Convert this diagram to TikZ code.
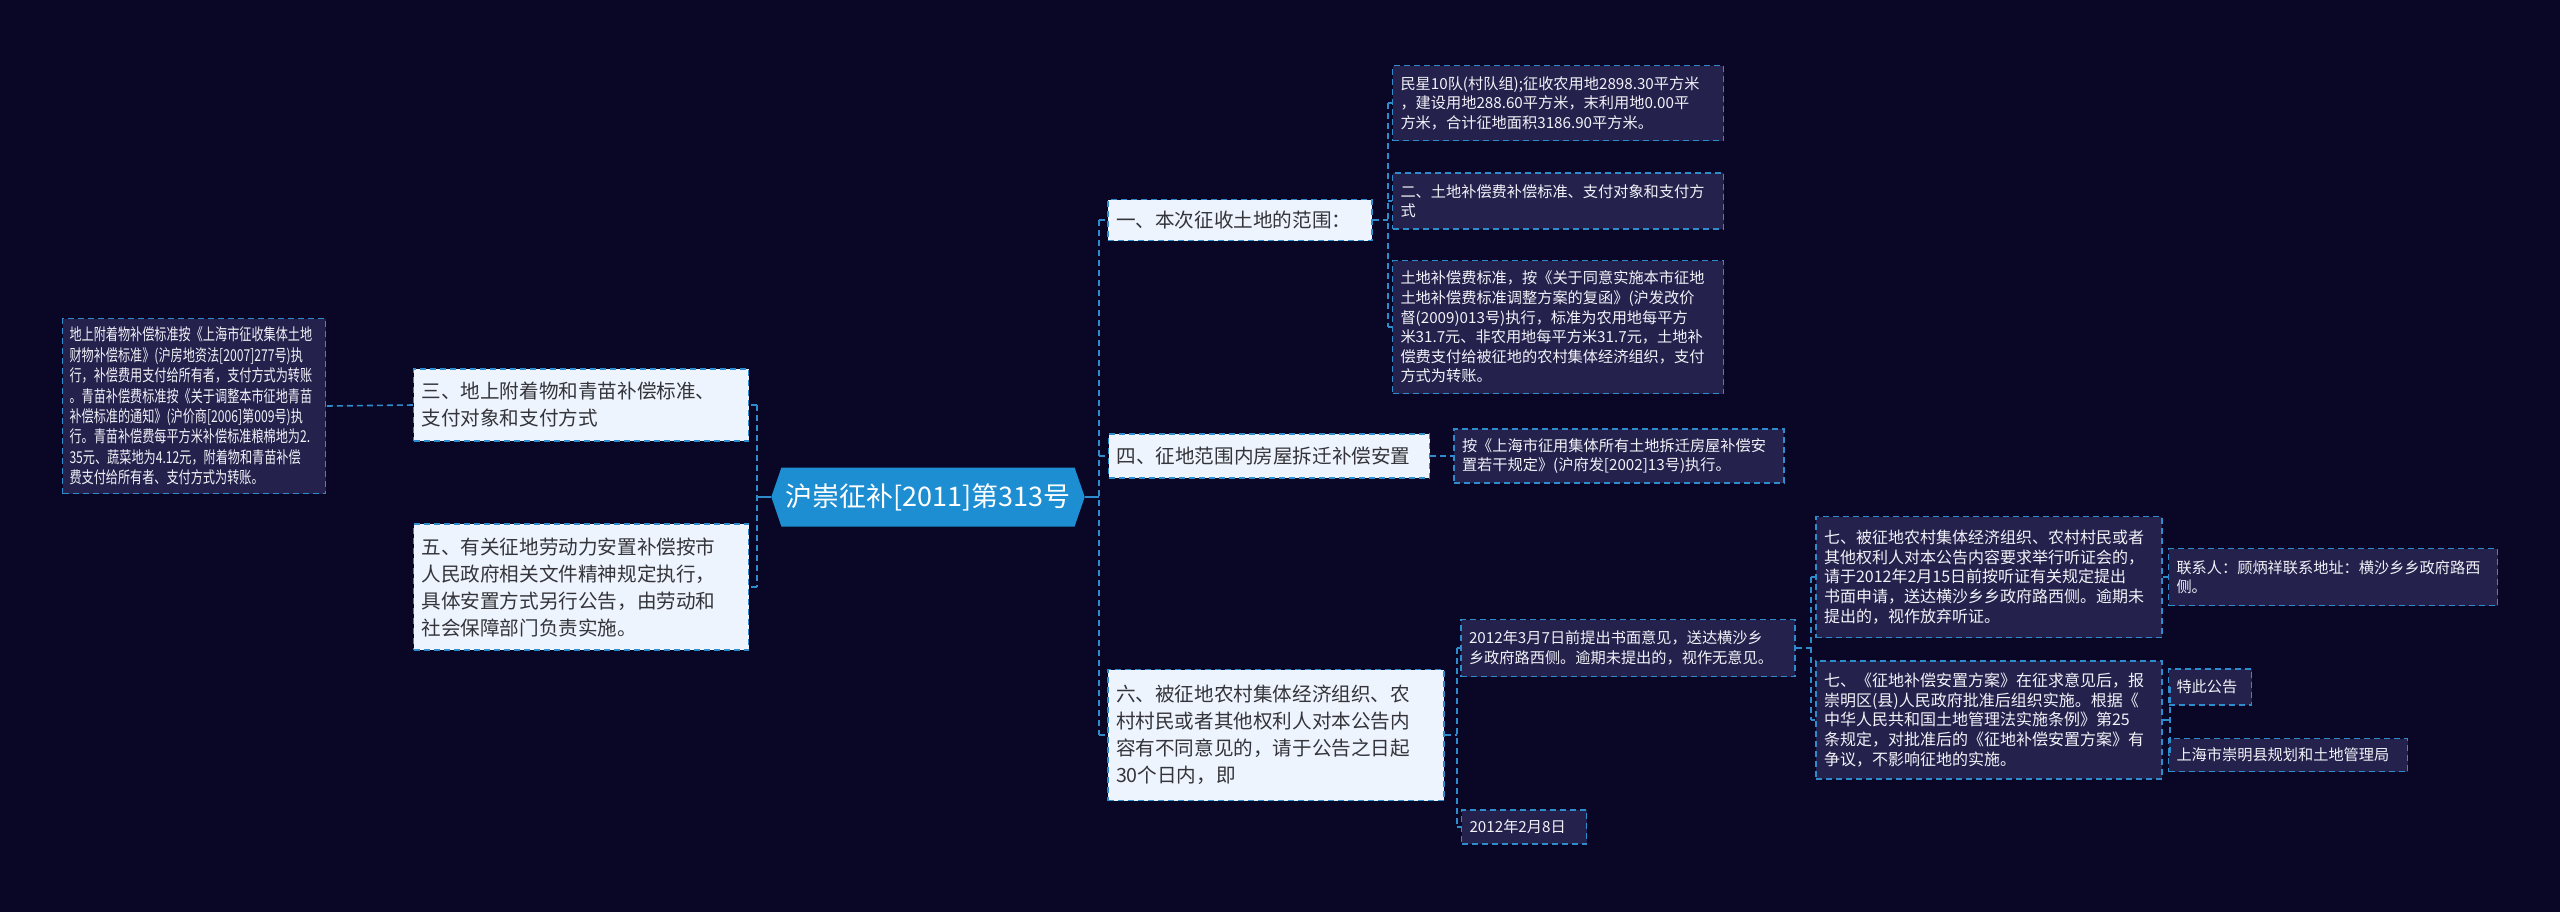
\documentclass[tikz,border=0pt]{standalone}
\usepackage{fontspec}
\setmainfont{Noto Sans CJK SC}
\newfontfamily\narrowcjk[FakeStretch=0.74]{Noto Sans CJK SC}
\usepackage{tikz}
\usetikzlibrary{shapes.symbols}
\definecolor{bgnavy}{RGB}{10,6,38}
\definecolor{leaffill}{RGB}{36,33,76}
\definecolor{leaftext}{RGB}{242,242,248}
\definecolor{topicfill}{RGB}{238,244,253}
\definecolor{topictext}{RGB}{52,52,58}
\definecolor{rootblue}{RGB}{30,142,210}
\definecolor{edgeblue}{RGB}{46,140,205}

\begin{document}
\begin{tikzpicture}[x=0.5pt, y=-0.5pt,
  rootnode/.style={shape=signal, signal to=east and west, signal pointer angle=142,
                   fill=rootblue, text=white, minimum width=155pt, minimum height=29.5pt,
                   inner sep=2pt, font=\fontsize{13.5}{16}\selectfont},
  topic/.style={draw=edgeblue, line width=0.7pt, dash pattern=on 3pt off 2pt,
                fill=topicfill, text=topictext, align=left, text width=#1,
                inner xsep=4pt, inner ysep=3pt, font=\fontsize{9.8}{13.5}\selectfont},
  leaf/.style={draw=edgeblue, line width=0.7pt, dash pattern=on 3pt off 2pt,
               fill=leaffill, text=leaftext, align=left, text width=#1,
               inner xsep=4pt, inner ysep=3pt, font=\fontsize{7.6}{9.8}\selectfont},
  link/.style={draw=edgeblue, line width=0.8pt, dash pattern=on 3pt off 2pt},
  stub/.style={draw=edgeblue, line width=0.8pt}
]
\fill[bgnavy] (0,0) rectangle (2560,912);

\node[rootnode] (root) at (928,497) {沪崇征补[2011]第313号};

% left side
\node[topic=159.5pt, minimum height=36pt] (t3) at (581,405)
  {三、地上附着物和青苗补偿标准、\\支付对象和支付方式};
\node[topic=159.5pt, minimum height=63pt] (t5) at (581,587)
  {五、有关征地劳动力安置补偿按市\\人民政府相关文件精神规定执行，\\具体安置方式另行公告，由劳动和\\社会保障部门负责实施。};
\node[leaf=124.5pt, minimum height=87.5pt, inner xsep=3.5pt,
      font=\narrowcjk\fontsize{8.2}{10.2}\selectfont] (attach) at (194,406)
  {地上附着物补偿标准按《上海市征收集体土地\\
   财物补偿标准》(沪房地资法[2007]277号)执\\
   行，补偿费用支付给所有者，支付方式为转账\\
   。青苗补偿费标准按《关于调整本市征地青苗\\
   补偿标准的通知》(沪价商[2006]第009号)执\\
   行。青苗补偿费每平方米补偿标准粮棉地为2.\\
   35元、蔬菜地为4.12元，附着物和青苗补偿\\
   费支付给所有者、支付方式为转账。};

% right side
\node[topic=124pt, minimum height=20.5pt] (t1) at (1240,220) {一、本次征收土地的范围：};
\node[topic=152.5pt, minimum height=22pt] (t4) at (1269,456) {四、征地范围内房屋拆迁补偿安置};
\node[topic=160pt, minimum height=65.5pt] (t6) at (1276,735)
  {六、被征地农村集体经济组织、农\\村村民或者其他权利人对本公告内\\容有不同意见的，请于公告之日起\\30个日内，即};

\node[leaf=157.5pt, minimum height=37.5pt] (area) at (1558,103)
  {民星10队(村队组);征收农用地2898.30平方米\\，建设用地288.60平方米，末利用地0.00平\\方米，合计征地面积3186.90平方米。};
\node[leaf=157.5pt, minimum height=28pt] (std) at (1558,201)
  {二、土地补偿费补偿标准、支付对象和支付方\\式};
\node[leaf=157.5pt, minimum height=66.5pt] (fee) at (1558,327)
  {土地补偿费标准，按《关于同意实施本市征地\\土地补偿费标准调整方案的复函》(沪发改价\\督(2009)013号)执行，标准为农用地每平方\\米31.7元、非农用地每平方米31.7元，土地补\\偿费支付给被征地的农村集体经济组织，支付\\方式为转账。};
\node[leaf=157pt, minimum height=27pt] (house) at (1619,456)
  {按《上海市征用集体所有土地拆迁房屋补偿安\\置若干规定》(沪府发[2002]13号)执行。};

\node[leaf=159pt, minimum height=28.5pt] (opinion) at (1628,648)
  {2012年3月7日前提出书面意见，送达横沙乡\\乡政府路西侧。逾期未提出的，视作无意见。};
\node[leaf=54.5pt, minimum height=17pt] (date) at (1524,827) {2012年2月8日};

\node[leaf=165pt, minimum height=60.5pt, font=\fontsize{8}{9.8}\selectfont] (hearing) at (1989,577)
  {七、被征地农村集体经济组织、农村村民或者\\其他权利人对本公告内容要求举行听证会的，\\请于2012年2月15日前按听证有关规定提出\\书面申请，送达横沙乡乡政府路西侧。逾期未\\提出的，视作放弃听证。};
\node[leaf=165pt, minimum height=59pt, font=\fontsize{8}{9.8}\selectfont] (plan) at (1989,720)
  {七、《征地补偿安置方案》在征求意见后，报\\崇明区(县)人民政府批准后组织实施。根据《\\中华人民共和国土地管理法实施条例》第25\\条规定，对批准后的《征地补偿安置方案》有\\争议，不影响征地的实施。};

\node[leaf=156.5pt, minimum height=28.5pt] (contact) at (2333,577)
  {联系人：顾炳祥联系地址：横沙乡乡政府路西\\侧。};
\node[leaf=33.5pt, minimum height=18pt] (notice) at (2210,687) {特此公告};
\node[leaf=111.5pt, minimum height=16.5pt] (bureau) at (2288,755) {上海市崇明县规划和土地管理局};

% connectors, left
\coordinate (lj) at ([xshift=-7pt]root.west);
\draw[stub] (root.west) -- (lj);
\draw[link] (lj |- t3.east) -- (lj |- t5.east);
\draw[link] (lj |- t3.east) -- (t3.east);
\draw[link] (lj |- t5.east) -- (t5.east);
\draw[link] (t3.west) -- (attach.east);

% connectors, right
\coordinate (rj) at ([xshift=7pt]root.east);
\draw[stub] (root.east) -- (rj);
\draw[link] (rj |- t1.west) -- (rj |- t6.west);
\draw[link] (rj |- t1.west) -- (t1.west);
\draw[link] (rj |- t4.west) -- (t4.west);
\draw[link] (rj |- t6.west) -- (t6.west);

\coordinate (j1) at ([xshift=7.5pt]t1.east);
\draw[link] (t1.east) -- (j1);
\draw[link] (j1 |- area.west) -- (j1 |- fee.west);
\draw[link] (j1 |- area.west) -- (area.west);
\draw[link] (j1 |- std.west) -- (std.west);
\draw[link] (j1 |- fee.west) -- (fee.west);

\draw[link] (t4.east) -- (house.west);

\coordinate (j6) at ([xshift=6pt]t6.east);
\draw[link] (t6.east) -- (j6);
\draw[link] (j6 |- opinion.west) -- (j6 |- date.west);
\draw[link] (j6 |- opinion.west) -- (opinion.west);
\draw[link] (j6 |- date.west) -- (date.west);

\coordinate (jo) at ([xshift=7.5pt]opinion.east);
\draw[link] (opinion.east) -- (jo);
\draw[link] (jo |- hearing.west) -- (jo |- plan.west);
\draw[link] (jo |- hearing.west) -- (hearing.west);
\draw[link] (jo |- plan.west) -- (plan.west);

\draw[link] (hearing.east) -- (contact.west);

\coordinate (jp) at ([xshift=3.5pt]plan.east);
\draw[link] (plan.east) -- (jp);
\draw[link] (jp |- notice.west) -- (jp |- bureau.west);
\draw[link] (jp |- notice.west) -- (notice.west);
\draw[link] (jp |- bureau.west) -- (bureau.west);
\end{tikzpicture}
\end{document}
